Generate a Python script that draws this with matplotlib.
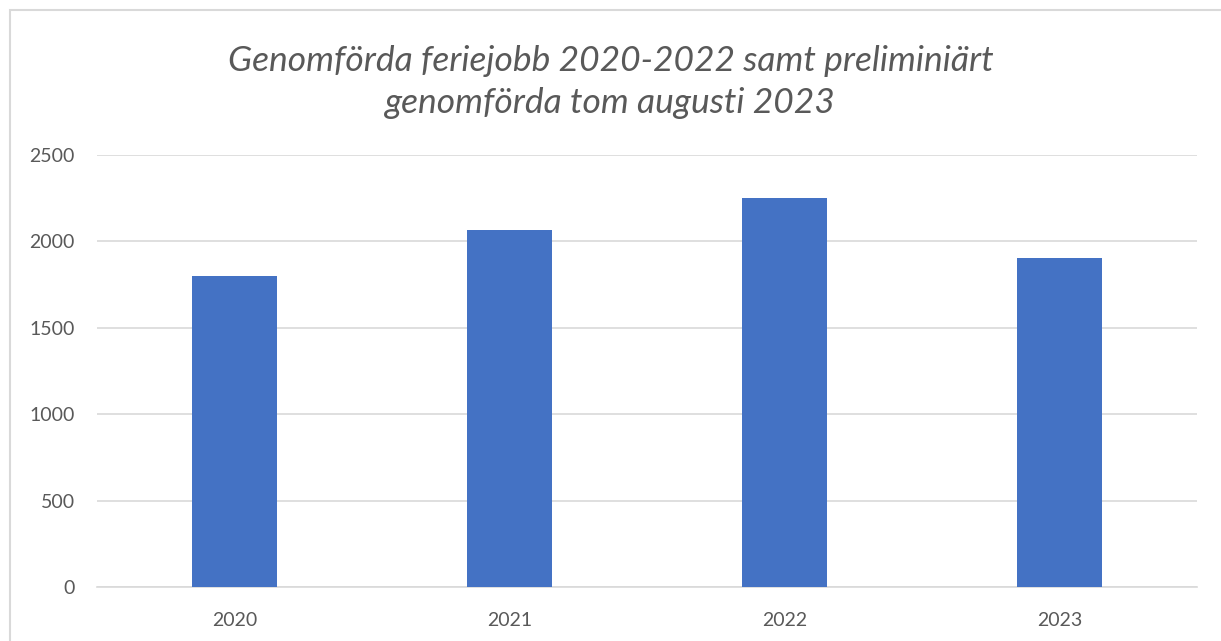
import matplotlib.pyplot as plt
from matplotlib.patches import Rectangle

years = ["2020", "2021", "2022", "2023"]
values = [1800, 2066, 2250, 1902]
title = "Genomförda feriejobb 2020-2022 samt preliminiärt\ngenomförda tom augusti 2023"

plt.rcParams["font.family"] = ["Lato", "DejaVu Sans"]

fig = plt.figure(figsize=(12.21, 6.41), dpi=100)
ax = fig.add_axes([97 / 1221, 1 - 587 / 641, 1100 / 1221, 432 / 641])

ax.bar(range(len(years)), values, width=0.31, color="#4472C4", zorder=3)
ax.set_xlim(-0.5, len(years) - 0.5)
ax.set_ylim(0, 2500)
ax.set_yticks(range(0, 2501, 500))
ax.set_xticks(range(len(years)))
ax.set_xticklabels(years)
ax.grid(axis="y", color="#D9D9D9", linewidth=1.2, zorder=0)
ax.tick_params(length=0, labelsize=14, colors="#595959", pad=18)
ax.tick_params(axis="y", pad=16)
for s in ax.spines.values():
    s.set_visible(False)
ax.spines["bottom"].set_visible(True)
ax.spines["bottom"].set_color("#D9D9D9")
ax.spines["bottom"].set_linewidth(1.2)

fig.text(0.5, 1 - 82 / 641, title, ha="center", va="center", fontsize=25.5,
         style="italic", color="#595959", linespacing=1.38)

fig.patches.append(Rectangle((10 / 1221, -0.1), 1.2, 1.1 - 10 / 641,
                             transform=fig.transFigure, fill=False,
                             edgecolor="#D9D9D9", linewidth=1.5))

fig.savefig("out.png", dpi=100)
